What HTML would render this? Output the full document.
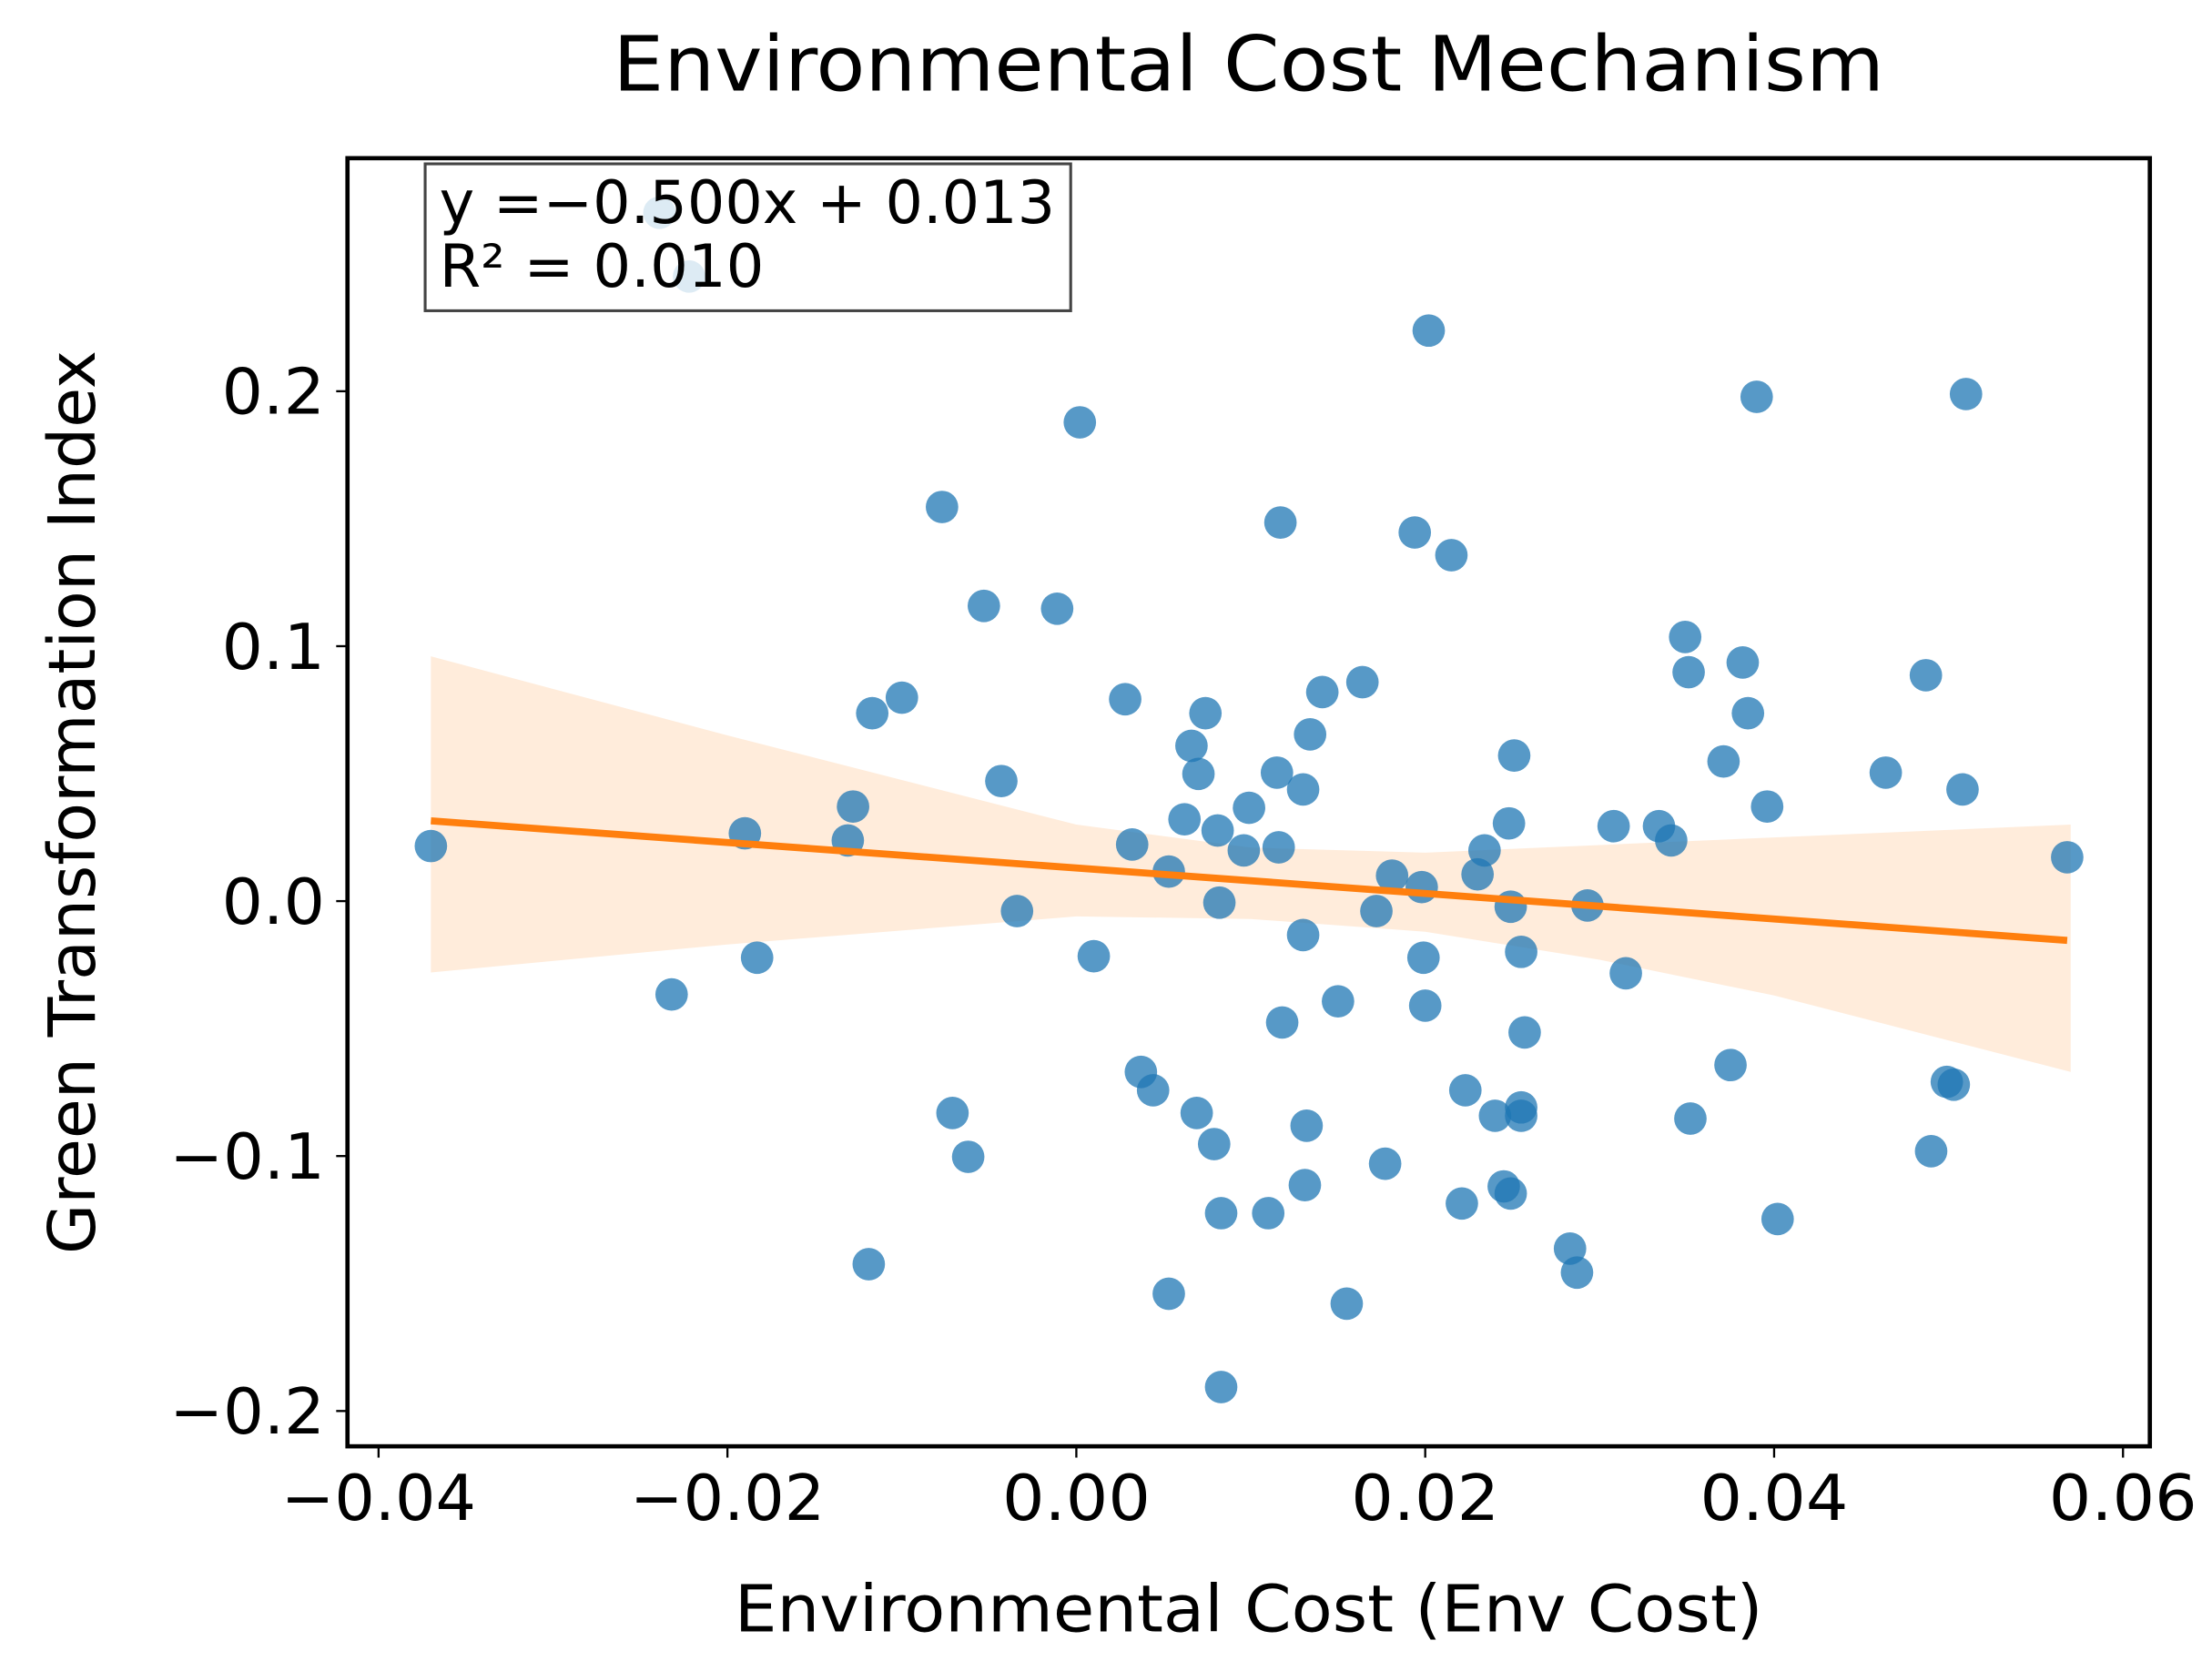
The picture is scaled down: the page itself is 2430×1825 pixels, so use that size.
<!DOCTYPE html>
<html>
<head>
<meta charset="utf-8">
<style>
html,body{margin:0;padding:0;background:#fff;}
svg{display:block;}
text{font-family:"DejaVu Sans","Liberation Sans",sans-serif;fill:#000;}
</style>
</head>
<body>
<svg id="chart" width="2430" height="1825" viewBox="0 0 1566 1176" preserveAspectRatio="none" xmlns="http://www.w3.org/2000/svg">
  <rect x="0" y="0" width="1566" height="1176" fill="#fff"/>
  <text x="884" y="64" font-size="54" text-anchor="middle" textLength="900" lengthAdjust="spacingAndGlyphs">Environmental Cost Mechanism</text>
  <g id="band"></g>
  <g id="points"></g>
  <g id="fit"></g>
  <g id="axes"></g>
  <rect x="246" y="112" width="1276" height="912" fill="none" stroke="#000" stroke-width="3"/>
  <g>
    <rect x="301" y="116" width="457" height="104" fill="#fff" fill-opacity="0.8" stroke="#444" stroke-width="2"/>
    <text x="311" y="158" font-size="42" textLength="436" lengthAdjust="spacingAndGlyphs">y =−0.500x + 0.013</text>
    <text x="311" y="203" font-size="42" textLength="230" lengthAdjust="spacingAndGlyphs">R² = 0.010</text>
  </g>
  <text x="884" y="1155" font-size="46" text-anchor="middle" textLength="728" lengthAdjust="spacingAndGlyphs">Environmental Cost (Env Cost)</text>
  <text x="0" y="0" font-size="46" text-anchor="middle" textLength="640" lengthAdjust="spacingAndGlyphs" transform="translate(67,568) rotate(-90)">Green Transformation Index</text>
</svg>
<script>
const xValues = [-0.0370,-0.0239,-0.0222,-0.0232,-0.0190,-0.0183,-0.0131,-0.0128,-0.0117,-0.0119,-0.0100,-0.0077,-0.0071,-0.0062,-0.0053,-0.0043,-0.0034,-0.0011,0.0002,0.0010,0.0028,0.0032,0.0037,0.0044,0.0053,0.0053,0.0062,0.0066,0.0069,0.0070,0.0074,0.0079,0.0081,0.0082,0.0083,0.0083,0.0096,0.0099,0.0110,0.0115,0.0116,0.0117,0.0118,0.0130,0.0130,0.0131,0.0132,0.0134,0.0141,0.0150,0.0155,0.0164,0.0172,0.0177,0.0181,0.0194,0.0198,0.0199,0.0200,0.0202,0.0215,0.0221,0.0223,0.0230,0.0234,0.0240,0.0245,0.0248,0.0249,0.0249,0.0251,0.0255,0.0255,0.0255,0.0257,0.0283,0.0287,0.0293,0.0308,0.0315,0.0334,0.0341,0.0349,0.0351,0.0352,0.0371,0.0375,0.0382,0.0385,0.0390,0.0396,0.0402,0.0464,0.0487,0.0490,0.0499,0.0503,0.0508,0.0510,0.0568];
const yValues = [0.0216,0.270,0.245,-0.0366,0.0266,-0.0222,0.0238,0.0371,0.0737,-0.1424,0.0798,0.1546,-0.0831,-0.1003,0.1158,0.0471,-0.0039,0.1147,0.1878,-0.0216,0.0792,0.0222,-0.0670,-0.0742,0.0116,-0.1540,0.0321,0.0609,-0.0831,0.0499,0.0737,-0.0953,0.0277,-0.0006,-0.1224,-0.1906,0.0199,0.0366,-0.1224,0.0504,0.0211,0.1485,-0.0476,-0.0133,0.0438,-0.1114,-0.0881,0.0654,0.0820,-0.0393,-0.1579,0.0859,-0.0039,-0.1030,0.0100,0.1446,0.0055,-0.0222,-0.0410,0.2238,0.1357,-0.1186,-0.0742,0.0105,0.0199,-0.0842,-0.1119,0.0305,-0.1147,-0.0022,0.0571,-0.0809,-0.0842,-0.0199,-0.0515,-0.1363,-0.1457,-0.0017,0.0294,-0.0283,0.0294,0.0238,0.1036,0.0898,-0.0853,0.0548,-0.0643,0.0936,0.0737,0.1978,0.0371,-0.1247,0.0504,0.0886,-0.0981,-0.0709,-0.0720,0.0438,0.1989,0.0172];
const fitSlope = [-0.500];
const fitIntercept = [0.013];
const bandX = [-0.037,-0.02,0,0.01,0.02,0.03,0.04,0.057];
const bandUpper = [0.096,0.065,0.030,0.021,0.019,0.022,0.025,0.030];
const bandLower = [-0.028,-0.017,-0.006,-0.007,-0.012,-0.023,-0.037,-0.067];
const xTicks = [-0.04,-0.02,0.00,0.02,0.04,0.06];
const xTickLabels = ["−0.04","−0.02","0.00","0.02","0.04","0.06"];
const yTicks = [-0.2,-0.1,0.0,0.1,0.2];
const yTickLabels = ["−0.2","−0.1","0.0","0.1","0.2"];

const NS = "http://www.w3.org/2000/svg";
function sx(v){ return 762 + v/0.02*247; }
function sy(v){ return 638 - v/0.1*180.5; }
function mk(tag, attrs, parent){
  const e = document.createElementNS(NS, tag);
  for (const k in attrs) e.setAttribute(k, attrs[k]);
  parent.appendChild(e);
  return e;
}

const bandG = document.getElementById('band');
let d = '';
bandX.forEach((x,i)=>{ d += (i?'L':'M') + sx(x) + ',' + sy(bandUpper[i]); });
for (let i = bandX.length-1; i >= 0; i--) d += 'L' + sx(bandX[i]) + ',' + sy(bandLower[i]);
d += 'Z';
const bandPath = mk('path', {d:d, fill:'#ff7f0e', 'fill-opacity':'0.15', stroke:'none'}, bandG);



const ptsG = document.getElementById('points');
xValues.forEach((x,i)=>{
  const c = mk('circle', {cx:sx(x), cy:sy(yValues[i]), r:11.5, fill:'#1f77b4', 'fill-opacity':'0.75'}, ptsG);
  
  
});

const fitG = document.getElementById('fit');
const x0 = Math.min(...xValues), x1 = Math.max(...xValues);
const ln = mk('line', {x1:sx(x0), y1:sy(fitSlope[0]*x0+fitIntercept[0]), x2:sx(x1), y2:sy(fitSlope[0]*x1+fitIntercept[0]), stroke:'#ff7f0e', 'stroke-width':5}, fitG);



const axG = document.getElementById('axes');
xTicks.forEach((t,i)=>{
  const x = sx(t);
  const tk = mk('line', {x1:x, y1:1024, x2:x, y2:1032, stroke:'#000', 'stroke-width':1.5}, axG);
  
  
  const lab = xTickLabels[i];
  const w = lab.charAt(0) === '−' ? 138 : 105;
  const tx = mk('text', {x:x, y:1076, 'font-size':45, 'text-anchor':'middle', textLength:w, lengthAdjust:'spacingAndGlyphs'}, axG);
  tx.textContent = lab;
  
  
});
yTicks.forEach((t,i)=>{
  const y = sy(t);
  const tk = mk('line', {x1:238, y1:y, x2:246, y2:y, stroke:'#000', 'stroke-width':1.5}, axG);
  
  
  const lab = yTickLabels[i];
  const w = lab.charAt(0) === '−' ? 110 : 73;
  const tx = mk('text', {x:230, y:y+16, 'font-size':45, 'text-anchor':'end', textLength:w, lengthAdjust:'spacingAndGlyphs'}, axG);
  tx.textContent = lab;
  
  
});
</script>
</body>
</html>
